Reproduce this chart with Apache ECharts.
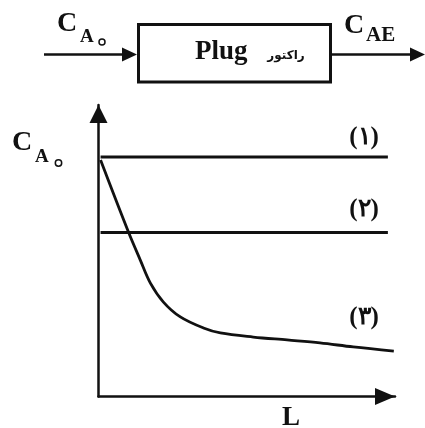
<!DOCTYPE html>
<html>
<head>
<meta charset="utf-8">
<script src="https://cdn.jsdelivr.net/npm/echarts@6/dist/echarts.min.js"></script>
<style>
html,body{margin:0;padding:0;background:#fff;}
#c{width:425px;height:428px;}
</style>
</head>
<body>
<div id="c"></div>
<script>
// ---- data (arbitrary units, read from the schematic) ----
const xRange = [0, 100];
const yRange = [0, 100];
const line1X = [0.7, 97.6];
const line1Y = [82.2, 82.2];
const line2X = [0.7, 97.6];
const line2Y = [56.3, 56.3];
const curveX = [0.7, 10.1, 14.1, 17.5, 21.9, 27.6, 35.4, 41.1, 52.2, 63.6, 74.7, 85.9, 99.6];
const curveY = [81.1, 56.4, 46.8, 38.9, 32.4, 27.3, 23.5, 21.8, 20.4, 19.4, 18.4, 17.0, 15.6];
const seriesLabels = ['(۱)', '(۲)', '(۳)'];
const reactorWord = 'راکتور';
const reactorType = 'Plug';
const axisXLabel = 'L';

const pair = (xs, ys) => xs.map((x, i) => [x, ys[i]]);
const INK = '#111';
const SERIF = '"Liberation Serif", "Times New Roman", serif';

const chart = echarts.init(document.getElementById('c'), null, {renderer: 'canvas'});

function txt(text, x, y, size, opts) {
  opts = opts || {};
  return {
    type: 'text', silent: true, z: 10,
    style: {
      text: text, x: x, y: y,
      font: 'bold ' + size + 'px ' + (opts.family || SERIF),
      fill: INK,
      align: opts.align || 'left', textAlign: opts.align || 'left',
      verticalAlign: 'middle', textVerticalAlign: 'middle'
    }
  };
}

const graphics = [
  // block diagram
  {type: 'rect', silent: true, shape: {x: 138.5, y: 24.5, width: 192, height: 57.5},
   style: {fill: 'none', stroke: INK, lineWidth: 3}},
  {type: 'line', silent: true, shape: {x1: 44, y1: 54.5, x2: 126, y2: 54.5},
   style: {stroke: INK, lineWidth: 2.5}},
  {type: 'polygon', silent: true, shape: {points: [[122, 47.5], [137, 54.5], [122, 61.5]]},
   style: {fill: INK}},
  {type: 'line', silent: true, shape: {x1: 331, y1: 54.5, x2: 414, y2: 54.5},
   style: {stroke: INK, lineWidth: 2.5}},
  {type: 'polygon', silent: true, shape: {points: [[410, 47.5], [425, 54.5], [410, 61.5]]},
   style: {fill: INK}},
  txt('C', 57, 24, 28),
  txt('A', 80, 37, 19),
  {type: 'circle', silent: true, shape: {cx: 102, cy: 42, r: 3}, style: {fill: 'none', stroke: INK, lineWidth: 1.5}},
  txt('C', 344, 26, 28),
  txt('AE', 366, 36, 21),
  txt(reactorType, 195, 52.5, 27),
  txt(reactorWord, 286, 56, 12, {family: '"DejaVu Sans", sans-serif', align: 'center'}),
  // chart labels
  txt('C', 12, 142.5, 28),
  txt('A', 35, 157.5, 19),
  {type: 'circle', silent: true, shape: {cx: 58.5, cy: 163, r: 3.2}, style: {fill: 'none', stroke: INK, lineWidth: 1.5}},
  txt(axisXLabel, 282, 418, 27),
  txt(seriesLabels[0], 364, 138, 25, {align: 'center'}),
  txt(seriesLabels[1], 364, 210, 25, {align: 'center'}),
  txt(seriesLabels[2], 364, 318, 25, {align: 'center'})
];

const axisCommon = {
  type: 'value',
  axisTick: {show: false},
  axisLabel: {show: false},
  splitLine: {show: false}
};

chart.setOption({
  animation: false,
  backgroundColor: '#fff',
  grid: {left: 98.5, right: 30, top: 105, bottom: 31.5, containLabel: false},
  xAxis: Object.assign({}, axisCommon, {
    min: xRange[0], max: xRange[1],
    axisLine: {show: true, onZero: false, symbol: ['none', 'triangle'], symbolSize: [17, 20], symbolOffset: [0, -10],
      lineStyle: {color: INK, width: 2.5}}
  }),
  yAxis: Object.assign({}, axisCommon, {
    min: yRange[0], max: yRange[1],
    axisLine: {show: true, onZero: false, symbol: ['none', 'triangle'], symbolSize: [18, 18], symbolOffset: [0, -9],
      lineStyle: {color: INK, width: 2.5}}
  }),
  series: [
    {type: 'line', name: '1', data: pair(line1X, line1Y), symbol: 'none', clip: false, silent: true,
     lineStyle: {color: INK, width: 3}},
    {type: 'line', name: '2', data: pair(line2X, line2Y), symbol: 'none', clip: false, silent: true,
     lineStyle: {color: INK, width: 3}},
    {type: 'line', name: '3', data: pair(curveX, curveY), symbol: 'none', clip: false, silent: true,
     smooth: 0.35, lineStyle: {color: INK, width: 2.8}}
  ],
  graphic: graphics
});
</script>
</body>
</html>
